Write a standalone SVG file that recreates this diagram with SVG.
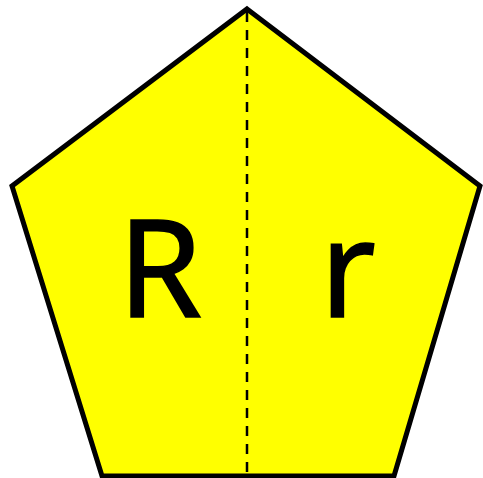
<svg xmlns="http://www.w3.org/2000/svg" width="483" height="478" viewBox="0 0 483 478">
<style>
.shape{fill:#ffff00;stroke:#000;stroke-width:5;stroke-linejoin:miter}
.lbl{font-family:"Noto Sans","Open Sans",sans-serif;font-size:135px;fill:#000;stroke:#000;stroke-width:1.6}
.axis{stroke:#000;stroke-width:2.5;stroke-dasharray:10 8;fill:none}
</style>
<g id="pentagon">
<polygon class="shape" points="247,9 480,186 394,476 102,476 12,186"/>
</g>
<g id="connectors">
<line class="axis" x1="247" y1="12" x2="247" y2="474"/>
</g>
<g id="label-R"><text class="lbl" x="160" y="317" text-anchor="middle">R</text></g>
<g id="label-r"><text class="lbl" x="348" y="317" text-anchor="middle">r</text></g>
</svg>
